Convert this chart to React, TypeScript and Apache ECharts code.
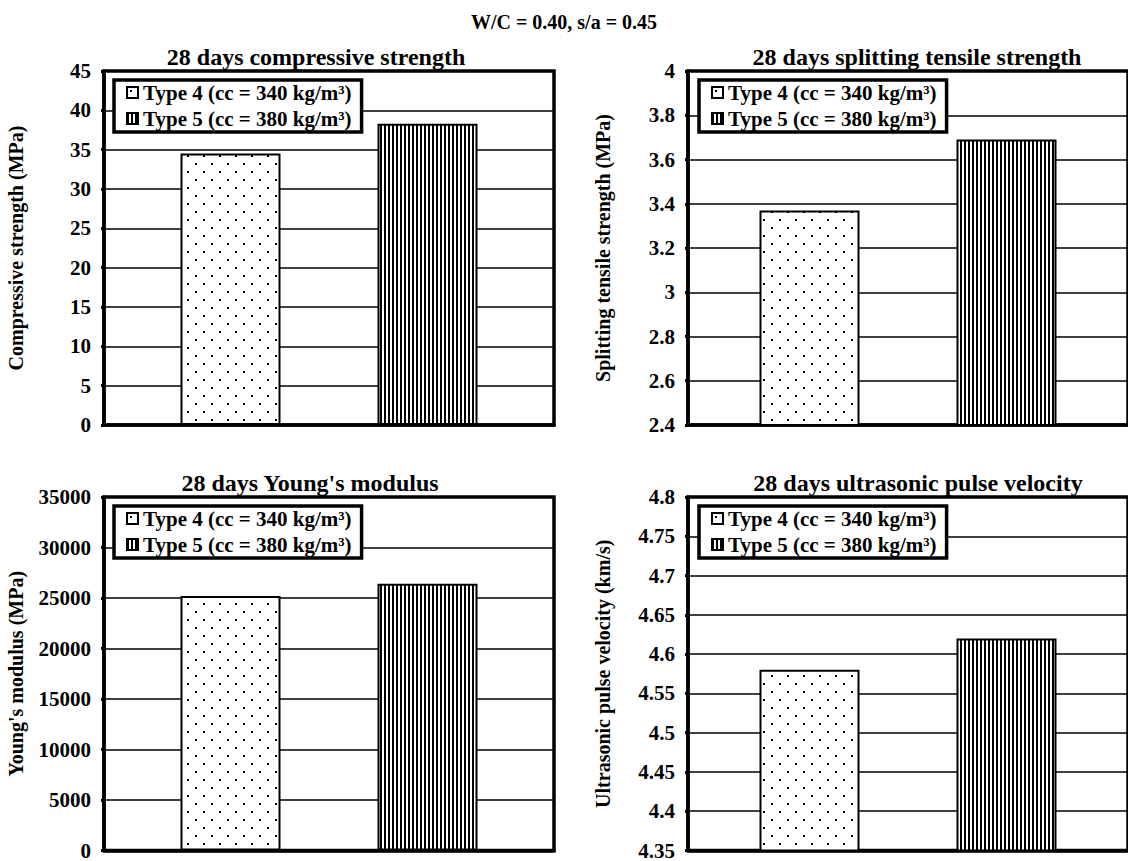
import React, { useEffect, useRef } from "react";
import * as echarts from "echarts";

const MAIN_TITLE = "W/C = 0.40, s/a = 0.45";
const SERIES_NAMES = ["Type 4 (cc = 340 kg/m³)", "Type 5 (cc = 380 kg/m³)"];
const CATEGORY = ["28 days"];
const PANEL_TITLES = [
  "28 days compressive strength",
  "28 days splitting tensile strength",
  "28 days Young's modulus",
  "28 days ultrasonic pulse velocity",
];
const Y_NAMES = [
  "Compressive strength (MPa)",
  "Splitting tensile strength (MPa)",
  "Young's modulus (MPa)",
  "Ultrasonic pulse velocity (km/s)",
];
const COMPRESSIVE = [34.5, 38.3];
const SPLITTING = [3.37, 3.69];
const YOUNGS = [25200, 26400];
const UPV = [4.58, 4.62];
const Y_MIN = [0, 2.4, 0, 4.35];
const Y_MAX = [45, 4, 35000, 4.8];
const Y_STEP = [5, 0.2, 5000, 0.05];

const FONT = "'Liberation Serif', 'Times New Roman', serif";

function makeDots(): HTMLCanvasElement {
  const c = document.createElement("canvas");
  c.width = 16;
  c.height = 16;
  const ctx = c.getContext("2d")!;
  ctx.fillStyle = "#fff";
  ctx.fillRect(0, 0, 16, 16);
  ctx.fillStyle = "#000";
  ctx.fillRect(3, 3, 2, 2);
  ctx.fillRect(11, 11, 2, 2);
  return c;
}

function makeStripes(): HTMLCanvasElement {
  const c = document.createElement("canvas");
  c.width = 4;
  c.height = 4;
  const ctx = c.getContext("2d")!;
  ctx.fillStyle = "#fff";
  ctx.fillRect(0, 0, 4, 4);
  ctx.fillStyle = "#000";
  ctx.fillRect(0, 0, 2, 4);
  return c;
}

export default function App() {
  const ref = useRef<HTMLDivElement>(null);
  useEffect(() => {
    document.body.style.margin = "0";
    if (!ref.current) return;
    const chart = echarts.init(ref.current, undefined, { renderer: "svg" });
    const dots = makeDots();
    const stripes = makeStripes();
    const fills = [
      { image: dots, repeat: "repeat" },
      { image: stripes, repeat: "repeat" },
    ];
    const values = [COMPRESSIVE, SPLITTING, YOUNGS, UPV];
    const panels = [
      { left: 104, top: 71, tx: 316, ty: 57, lx: 114, ly: 80, gap: 78 },
      { left: 688, top: 71, tx: 917, ty: 57, lx: 699, ly: 80, gap: 75 },
      { left: 104, top: 497, tx: 310, ty: 483, lx: 114, ly: 506, gap: 78 },
      { left: 688, top: 497, tx: 918, ty: 483, lx: 699, ly: 506, gap: 75 },
    ];
    const W = 450;
    const H = 354;

    const grid = panels.map((p) => ({
      left: p.left,
      top: p.top,
      width: W,
      height: H,
      show: true,
      borderColor: "#000",
      borderWidth: 3.5,
      backgroundColor: "#fff",
    }));
    const xAxis = panels.map((_, i) => ({
      type: "category",
      gridIndex: i,
      data: CATEGORY,
      axisLine: { show: true, lineStyle: { color: "#000", width: 3.5 } },
      axisTick: { show: false },
      axisLabel: { show: false },
      splitLine: { show: false },
    }));
    const yAxis = panels.map((p, i) => ({
      type: "value",
      gridIndex: i,
      min: Y_MIN[i],
      max: Y_MAX[i],
      interval: Y_STEP[i],
      name: Y_NAMES[i],
      nameLocation: "middle",
      nameRotate: 90,
      nameGap: p.gap,
      nameTextStyle: { fontFamily: FONT, fontWeight: "bold", fontSize: 20, color: "#000" },
      axisLine: { show: true, lineStyle: { color: "#000", width: 3.5 } },
      axisTick: { show: true, length: 3, lineStyle: { color: "#000", width: 3 } },
      axisLabel: {
        margin: 13,
        fontFamily: FONT,
        fontWeight: "bold",
        fontSize: 21,
        color: "#000",
        formatter: (v: number) => String(Math.round(v * 1000) / 1000),
      },
      splitLine: { show: true, lineStyle: { color: "#000", width: 1.5 } },
    }));
    const series: any[] = [];
    panels.forEach((_, i) => {
      SERIES_NAMES.forEach((name, k) => {
        series.push({
          type: "bar",
          name,
          xAxisIndex: i,
          yAxisIndex: i,
          data: [values[i][k]],
          barWidth: 100,
          barGap: "97%",
          itemStyle: { color: fills[k], borderColor: "#000", borderWidth: 2 },
        });
      });
    });
    const legend = panels.map((p) => ({
      data: SERIES_NAMES,
      orient: "vertical",
      left: p.lx,
      top: p.ly,
      padding: [2, 10, 3, 12],
      itemGap: 5,
      itemWidth: 11,
      itemHeight: 11,
      icon: "rect",
      borderColor: "#000",
      borderWidth: 3.5,
      backgroundColor: "#fff",
      selectedMode: false,
      textStyle: { fontFamily: FONT, fontWeight: "bold", fontSize: 21, color: "#000" },
    }));
    const graphic: any[] = [
      {
        type: "text",
        x: 564,
        y: 22,
        style: {
          text: MAIN_TITLE,
          fontFamily: FONT,
          fontWeight: "bold",
          fontSize: 20,
          fill: "#000",
          align: "center",
          verticalAlign: "middle",
        },
      },
      ...panels.map((p, i) => ({
        type: "text",
        x: p.tx,
        y: p.ty,
        style: {
          text: PANEL_TITLES[i],
          fontFamily: FONT,
          fontWeight: "bold",
          fontSize: 24,
          fill: "#000",
          align: "center",
          verticalAlign: "middle",
        },
      })),
    ];
    chart.setOption({
      animation: false,
      backgroundColor: "#fff",
      grid,
      xAxis,
      yAxis,
      series,
      legend,
      graphic,
    });
    return () => chart.dispose();
  }, []);
  return <div ref={ref} style={{ width: 1128, height: 861 }} />;
}
